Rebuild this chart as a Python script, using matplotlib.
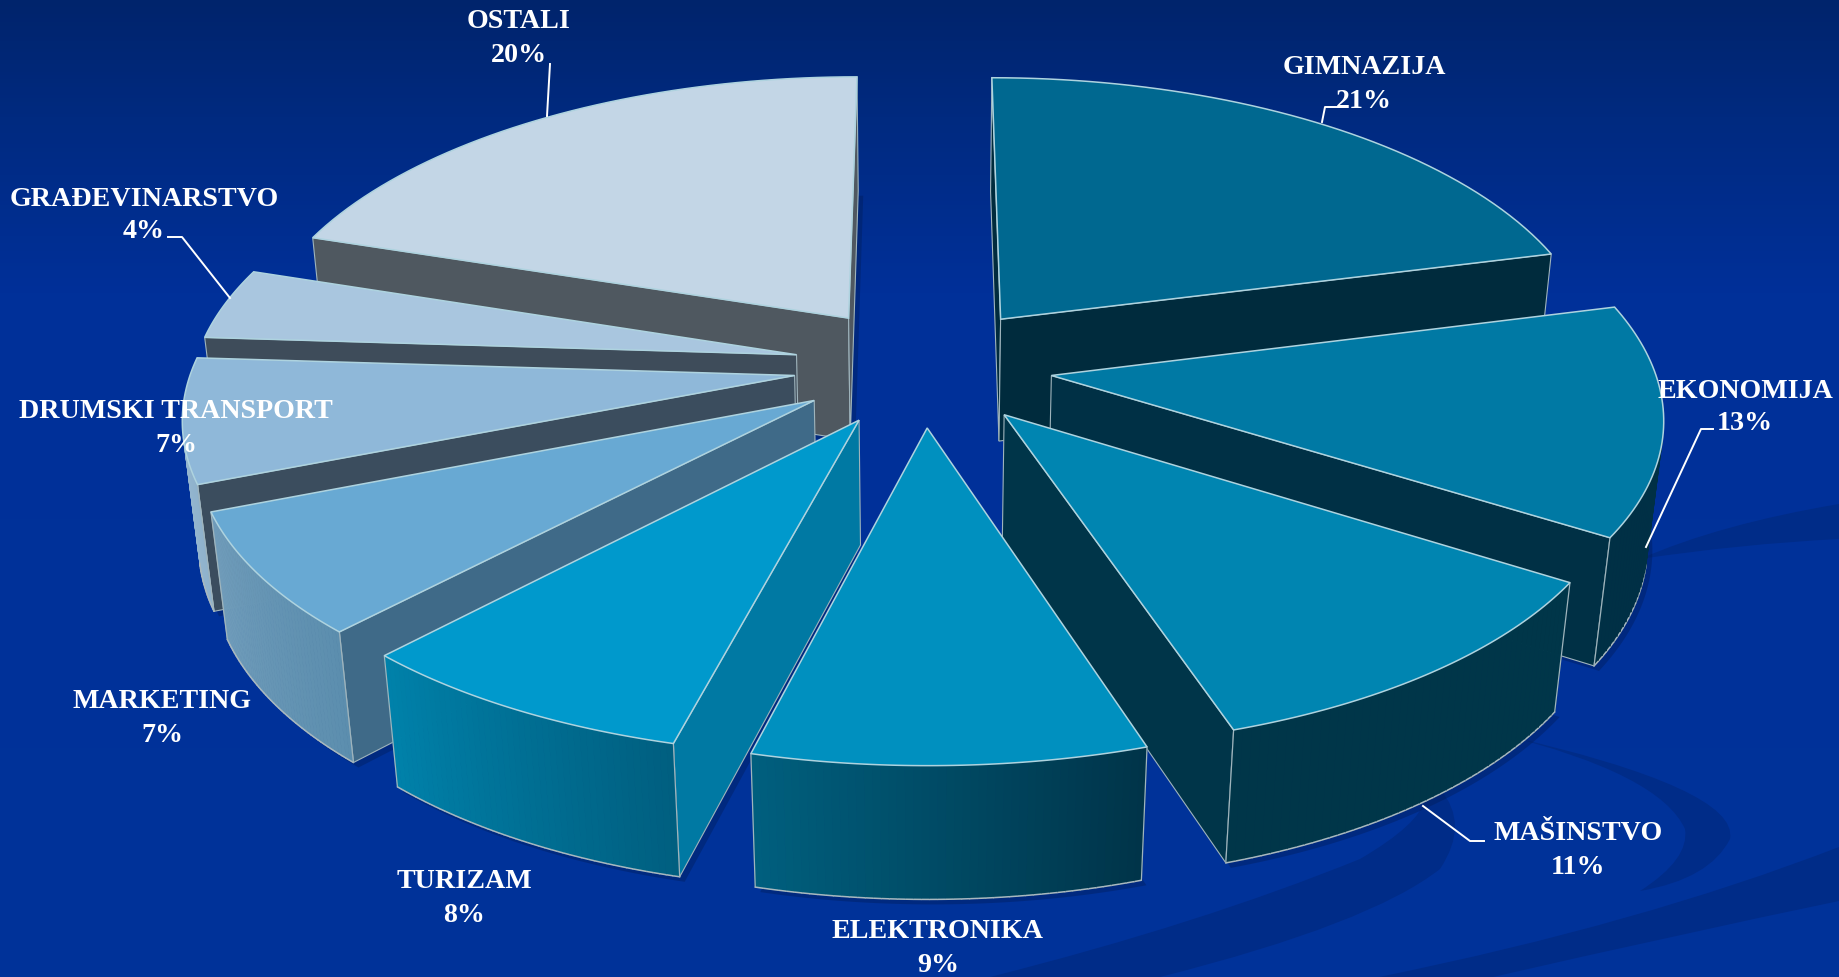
import matplotlib
matplotlib.use("Agg")
import matplotlib.pyplot as plt
import numpy as np
from matplotlib.colors import to_rgb, LinearSegmentedColormap
from matplotlib.patches import PathPatch, Polygon
from matplotlib.path import Path

plt.rcParams["font.family"] = ["Liberation Serif", "DejaVu Serif"]

LABELS = ["GIMNAZIJA", "EKONOMIJA", "MAŠINSTVO", "ELEKTRONIKA", "TURIZAM",
          "MARKETING", "DRUMSKI TRANSPORT", "GRAĐEVINARSTVO", "OSTALI"]
SHARES = [21, 13, 11, 9, 8, 7, 7, 4, 20]

TOP_COLORS = ["#006890", "#0079a4", "#0085b1", "#0090bf", "#0099cc",
              "#68a9d3", "#8fb8d9", "#a9c6df", "#c3d6e6"]
RADIAL_COLORS = ["#002b3d", "#003045", "#003549", "#003c50", "#0079a3",
                 "#3f6a88", "#3b4d5e", "#3e4c5a", "#4f5860"]
# outer wall colours, from the end of the slice to its start (left to right when in front)
OUTER_LEFT = ["#002b3d", "#003045", "#003649", "#00607f", "#0082ab",
              "#719dbb", "#9dbcd4", "#a9c6df", "#c3d6e6"]
OUTER_RIGHT = ["#002b3d", "#003045", "#003649", "#003449", "#005f80",
               "#5c8eae", "#8fb2cc", "#a9c6df", "#c3d6e6"]

# label centre (x, y of name, y of percent) in pixels
LABEL_POS = [(1364, 68, 101), (1745, 392, 424), (1578, 834, 867), (938, 932, 966),
             (464, 881, 915), (162, 701, 735), (176, 411, 446), (144, 199, 232),
             (519, 21, 55)]
LEADERS = [[(1322, 123), (1325, 108), (1338, 108)],
           [(1646, 548), (1701, 430), (1713, 430)],
           [(1423, 807), (1470, 842), (1484, 842)],
           [(230, 299), (182, 238), (168, 238)],
           [(547, 117), (550, 65)]]

# projection of the pie plane, fitted to the picture (radius = 1)
CX, CY = 923, 367
EXPLODE = 0.215
FX, KX = 602, 0.13
GY, KY, HZ = 281, 0.12, 126
KZ = 0.022


def project(u, v, z=0):
    x = CX + FX * u / (1 + KX * v + KZ * z)
    y = CY + (-GY * v + HZ * z) / (1 + KY * v + KZ * z)
    return x, y


def faces_viewer(quad):
    q = np.array(quad)
    x, y = q[:, 0], q[:, 1]
    return np.sum(x * np.roll(y, -1) - np.roll(x, -1) * y) < 0


def wall(a, b):
    return [project(*a), project(*b), project(*b, 1), project(*a, 1)]


def draw_background(ax):
    grad = np.linspace(0, 1, 256).reshape(-1, 1)
    cmap = LinearSegmentedColormap.from_list(
        "bg", [(0, "#00246c"), (0.12, "#002a80"), (0.3, "#003099"), (1, "#003399")])
    ax.imshow(grad, cmap=cmap, extent=(0, 1839, 978, 0), aspect="auto", zorder=0)

    swoosh = "#002c88"
    band = [(Path.MOVETO, (1379, 978)), (Path.CURVE3, (1640, 925)), (Path.CURVE3, (1839, 848)),
            (Path.LINETO, (1839, 902)), (Path.CURVE3, (1680, 935)), (Path.CURVE3, (1493, 978)),
            (Path.CLOSEPOLY, (1379, 978))]
    crescent = [(Path.MOVETO, (990, 978)), (Path.CURVE3, (1200, 925)), (Path.CURVE3, (1360, 860)),
                (Path.CURVE3, (1420, 825)), (Path.CURVE3, (1425, 800)),
                (Path.LINETO, (1440, 790)), (Path.CURVE3, (1470, 825)), (Path.CURVE3, (1440, 870)),
                (Path.CURVE3, (1370, 925)), (Path.CURVE3, (1160, 978)),
                (Path.CLOSEPOLY, (990, 978))]
    lobe = [(Path.MOVETO, (1500, 735)), (Path.CURVE3, (1740, 790)), (Path.CURVE3, (1730, 840)),
            (Path.CURVE3, (1710, 880)), (Path.CURVE3, (1640, 892)),
            (Path.CURVE3, (1690, 860)), (Path.CURVE3, (1685, 830)),
            (Path.CURVE3, (1660, 775)), (Path.CURVE3, (1500, 735)),
            (Path.CLOSEPOLY, (1500, 735))]
    top_arc = [(Path.MOVETO, (1640, 560)), (Path.CURVE3, (1720, 525)), (Path.CURVE3, (1839, 505)),
               (Path.LINETO, (1839, 540)), (Path.CURVE3, (1740, 545)), (Path.CURVE3, (1640, 560)),
               (Path.CLOSEPOLY, (1640, 560))]
    for shape in (band, crescent, lobe, top_arc):
        codes, verts = zip(*shape)
        ax.add_patch(PathPatch(Path(verts, codes), facecolor=swoosh, edgecolor="none", zorder=1))


def draw_slice(ax, i, a0, a1, zorder):
    mid = np.radians((a0 + a1) / 2)
    ou, ov = EXPLODE * np.sin(mid), EXPLODE * np.cos(mid)
    angles = np.radians(np.linspace(a0, a1, 50))
    rim = [(ou + np.sin(t), ov + np.cos(t)) for t in angles]
    apex = (ou, ov)

    # soft shadow on the background
    bottom = [project(*apex, 1)] + [project(*p, 1) for p in rim]
    shadow = np.array(bottom) + (5, 5)
    ax.add_patch(Polygon(shadow, closed=True, facecolor="#001a50", alpha=0.35,
                         edgecolor="none", zorder=zorder))

    # radial walls
    for a, b in ((apex, rim[0]), (rim[-1], apex)):
        quad = wall(a, b)
        if faces_viewer(quad):
            ax.add_patch(Polygon(quad, closed=True, facecolor=RADIAL_COLORS[i],
                                 edgecolor="#9fb4bc", lw=0.8, zorder=zorder))

    # outer wall, one strip per arc step so it can carry the gradient
    c_right, c_left = np.array(to_rgb(OUTER_RIGHT[i])), np.array(to_rgb(OUTER_LEFT[i]))
    n = len(rim) - 1
    for k in range(n):
        quad = wall(rim[k], rim[k + 1])
        if faces_viewer(quad):
            col = c_right + (c_left - c_right) * (k / n)
            ax.add_patch(Polygon(quad, closed=True, facecolor=col, edgecolor=col,
                                 lw=0.6, zorder=zorder))
            x, y = zip(project(*rim[k], 1), project(*rim[k + 1], 1))
            ax.plot(x, y, color="#a9b8bf", lw=1.1, zorder=zorder, solid_capstyle="round")
    for p, seg in ((rim[0], (rim[0], rim[1])), (rim[-1], (rim[-2], rim[-1]))):
        if faces_viewer(wall(*seg)):
            x, y = zip(project(*p), project(*p, 1))
            ax.plot(x, y, color="#9fb4bc", lw=0.9, zorder=zorder)

    top = [project(*apex)] + [project(*p) for p in rim]
    ax.add_patch(Polygon(top, closed=True, facecolor=TOP_COLORS[i],
                         edgecolor="#aed3df", lw=1.1, joinstyle="miter", zorder=zorder))


def main():
    fig = plt.figure(figsize=(18.39, 9.78), dpi=100)
    ax = fig.add_axes([0, 0, 1, 1])
    draw_background(ax)

    edges = np.cumsum([0] + SHARES) / sum(SHARES) * 360
    # back slices first, so the front ones cover them
    mids = np.radians((edges[:-1] + edges[1:]) / 2)
    order = np.argsort(-np.cos(mids))
    for rank, i in enumerate(order):
        draw_slice(ax, i, edges[i], edges[i + 1], 5 + rank)

    for pts in LEADERS:
        x, y = zip(*pts)
        ax.plot(x, y, color="white", lw=1.4, zorder=30)

    for name, share, (x, y1, y2) in zip(LABELS, SHARES, LABEL_POS):
        ax.text(x, y1, name, color="white", fontsize=20.2, fontweight="bold",
                ha="center", va="center", zorder=31)
        ax.text(x, y2, f"{share}%", color="white", fontsize=20.2, fontweight="bold",
                ha="center", va="center", zorder=31)

    ax.set_xlim(0, 1839)
    ax.set_ylim(978, 0)
    ax.axis("off")
    fig.savefig("out.png", dpi=100)
    plt.close(fig)


if __name__ == "__main__":
    main()
